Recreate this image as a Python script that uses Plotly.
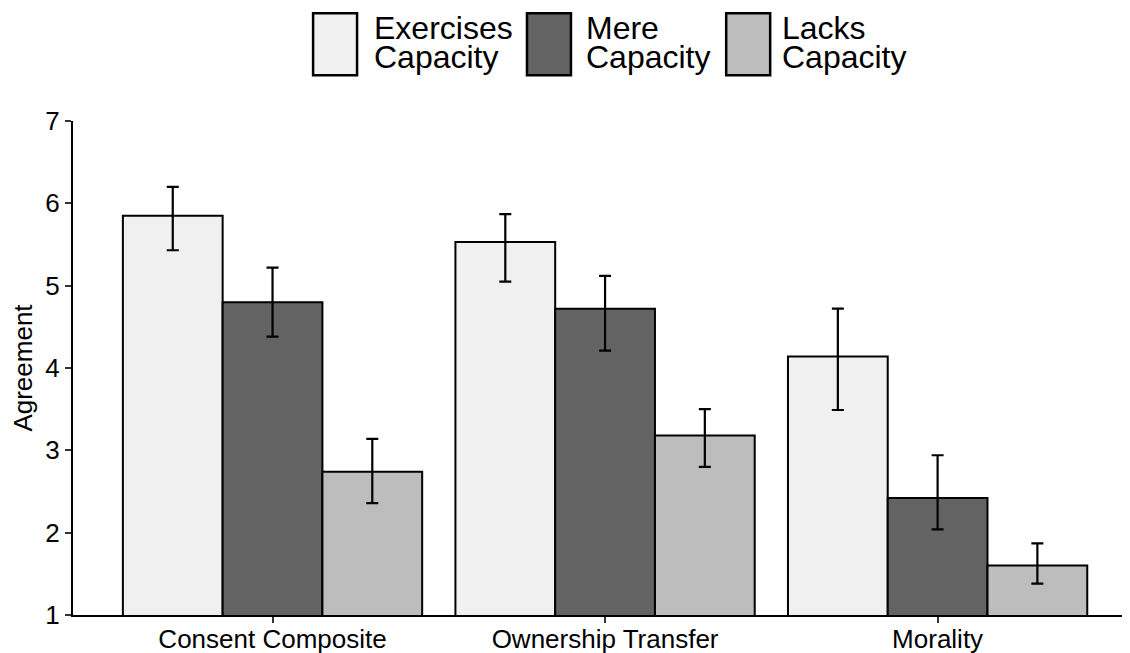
import plotly.graph_objects as go

categories = ["Consent Composite", "Ownership Transfer", "Morality"]
series_names = ["Exercises Capacity", "Mere Capacity", "Lacks Capacity"]
legend_lines = [["Exercises", "Capacity"], ["Mere", "Capacity"], ["Lacks", "Capacity"]]

exercises = [5.85, 5.53, 4.14]
exercises_hi = [6.20, 5.87, 4.72]
exercises_lo = [5.43, 5.05, 3.49]

mere = [4.80, 4.72, 2.42]
mere_hi = [5.22, 5.12, 2.94]
mere_lo = [4.38, 4.21, 2.04]

lacks = [2.74, 3.18, 1.60]
lacks_hi = [3.14, 3.50, 1.87]
lacks_lo = [2.36, 2.80, 1.38]

y_ticks = [1, 2, 3, 4, 5, 6, 7]

colors = ["#F0F0F0", "#636363", "#BDBDBD"]
FONT = "Liberation Sans, Arial, Helvetica, sans-serif"

# The page body has an 8px default margin, so the figure is drawn 8px in.
OFF = 8
W, H = 1130 - OFF, 653 - OFF
ML, MR, MT, MB = 72.5 - OFF, 0, 120.7 - OFF, 37.5
PW = W - ML - MR
PH = H - MT - MB


def px_x(px):
    return (px - OFF - ML) / PW


def px_y(py):
    return (H - MB - (py - OFF)) / PH


fig = go.Figure()
all_series = [
    (exercises, exercises_hi, exercises_lo),
    (mere, mere_hi, mere_lo),
    (lacks, lacks_hi, lacks_lo),
]
for name, (vals, hi, lo), col in zip(series_names, all_series, colors):
    fig.add_trace(go.Bar(
        x=categories,
        y=vals,
        name=name,
        marker=dict(color=col, line=dict(color="black", width=2)),
        error_y=dict(
            type="data",
            symmetric=False,
            array=[h - v for h, v in zip(hi, vals)],
            arrayminus=[v - l for v, l in zip(vals, lo)],
            color="black",
            thickness=2.2,
            width=6,
        ),
        showlegend=False,
    ))

# manual legend (large keys like the reference)
key_left = [312.7, 526.7, 726.0]
text_left = [373.3, 586.0, 781.7]
key_w = 44
key_top, key_bot = 12.7, 75.0
shapes = []
annotations = []
for i in range(3):
    shapes.append(dict(
        type="rect", xref="paper", yref="paper",
        x0=px_x(key_left[i]), x1=px_x(key_left[i] + key_w),
        y0=px_y(key_bot), y1=px_y(key_top),
        fillcolor=colors[i], line=dict(color="black", width=2.5),
        layer="above",
    ))
    for j, line_y in enumerate([27.5, 56.5]):
        annotations.append(dict(
            text=legend_lines[i][j], xref="paper", yref="paper",
            x=px_x(text_left[i]), y=px_y(line_y),
            xanchor="left", yanchor="middle", showarrow=False,
            font=dict(family=FONT, size=32, color="black"),
            xshift=-2,
        ))

fig.update_layout(
    width=W, height=H, autosize=False,
    margin=dict(l=ML, r=MR, t=MT, b=MB, pad=0, autoexpand=False),
    paper_bgcolor="white", plot_bgcolor="white",
    barmode="group", bargap=0.1, bargroupgap=0,
    font=dict(family=FONT, size=26, color="black"),
    shapes=shapes, annotations=annotations,
    xaxis=dict(
        type="category",
        range=[-0.6, -0.6 + PW / 332.7],
        automargin=False,
        showline=True, linecolor="black", linewidth=2,
        ticks="outside", ticklen=6, tickwidth=2, tickcolor="#333333",
        ticklabelstandoff=-6,
        showgrid=False, zeroline=False,
        tickfont=dict(family=FONT, size=26, color="black"),
    ),
    yaxis=dict(
        range=[1, 7],
        tickvals=y_ticks,
        automargin=False,
        showline=True, linecolor="black", linewidth=2,
        ticks="outside", ticklen=6, tickwidth=2, tickcolor="#333333",
        showgrid=False, zeroline=False,
        tickfont=dict(family=FONT, size=26, color="black"),
        title=dict(text="Agreement", font=dict(family=FONT, size=26, color="black"), standoff=8),
    ),
)

fig.write_html("out.html")
